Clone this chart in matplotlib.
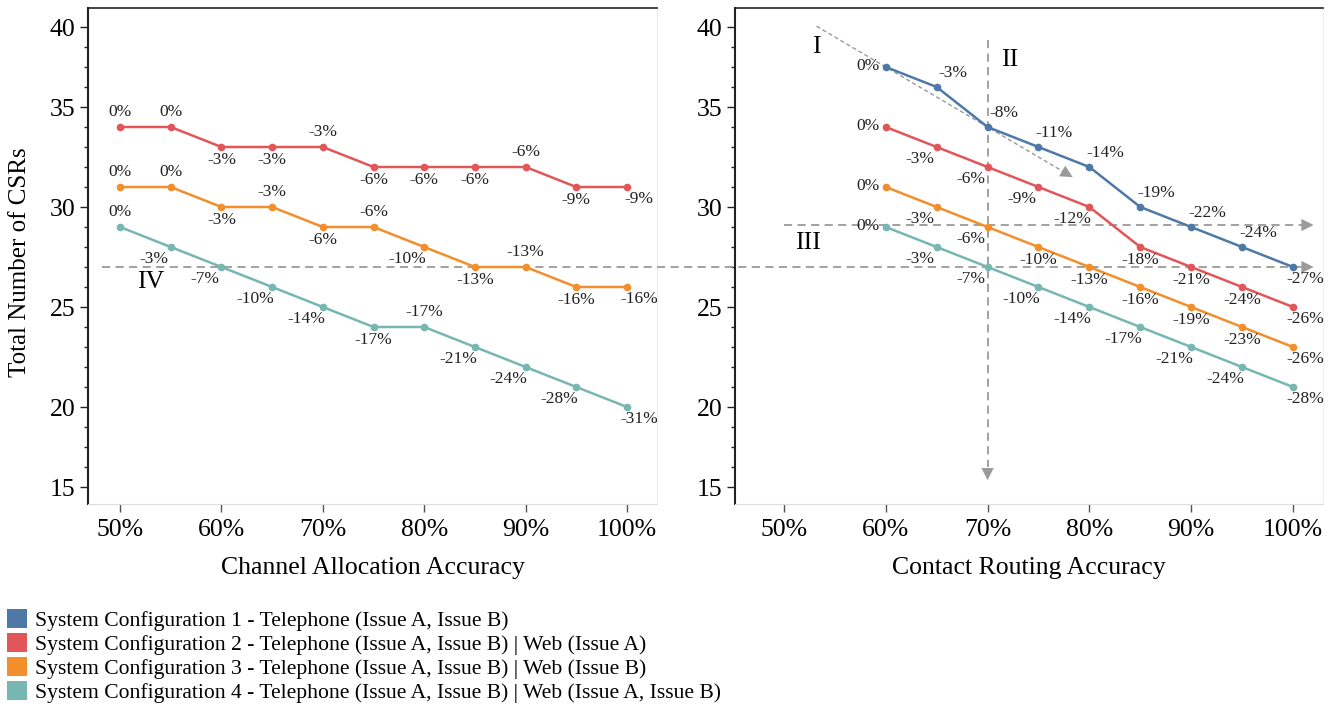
import matplotlib.pyplot as plt
from matplotlib.patches import Patch

plt.rcParams['font.family'] = ['Liberation Serif', 'DejaVu Serif']

# accuracy steps (%)
channel_acc = [50, 55, 60, 65, 70, 75, 80, 85, 90, 95, 100]
routing_acc = [60, 65, 70, 75, 80, 85, 90, 95, 100]

# left panel - Channel Allocation Accuracy
chan_cfg2 = [34, 34, 33, 33, 33, 32, 32, 32, 32, 31, 31]
chan_cfg3 = [31, 31, 30, 30, 29, 29, 28, 27, 27, 26, 26]
chan_cfg4 = [29, 28, 27, 26, 25, 24, 24, 23, 22, 21, 20]
chan_cfg2_pct = [0, 0, -3, -3, -3, -6, -6, -6, -6, -9, -9]
chan_cfg3_pct = [0, 0, -3, -3, -6, -6, -10, -13, -13, -16, -16]
chan_cfg4_pct = [0, -3, -7, -10, -14, -17, -17, -21, -24, -28, -31]

# right panel - Contact Routing Accuracy
rout_cfg1 = [37, 36, 34, 33, 32, 30, 29, 28, 27]
rout_cfg2 = [34, 33, 32, 31, 30, 28, 27, 26, 25]
rout_cfg3 = [31, 30, 29, 28, 27, 26, 25, 24, 23]
rout_cfg4 = [29, 28, 27, 26, 25, 24, 23, 22, 21]
rout_cfg1_pct = [0, -3, -8, -11, -14, -19, -22, -24, -27]
rout_cfg2_pct = [0, -3, -6, -9, -12, -18, -21, -24, -26]
rout_cfg3_pct = [0, -3, -6, -10, -13, -16, -19, -23, -26]
rout_cfg4_pct = [0, -3, -7, -10, -14, -17, -21, -24, -28]

legend_labels = [
    'System Configuration 1 - Telephone (Issue A, Issue B)',
    'System Configuration 2 - Telephone (Issue A, Issue B) | Web (Issue A)',
    'System Configuration 3 - Telephone (Issue A, Issue B) | Web (Issue B)',
    'System Configuration 4 - Telephone (Issue A, Issue B) | Web (Issue A, Issue B)',
]
colors = ['#4e79a7', '#e15759', '#f28e2b', '#76b7b2']

# label placement codes -> pixel offsets (dx, dy up)
OFFS = {'a': (0, 15), 'b': (0, -13), 'bl': (-17, -12), 'br': (12, -12),
        'l': (-18, 1), 'ar': (16, 14)}

chan_pos2 = ['a', 'a', 'b', 'b', 'a', 'b', 'b', 'b', 'a', 'b', 'br']
chan_pos3 = ['a', 'a', 'b', 'a', 'b', 'a', 'bl', 'b', 'a', 'b', 'br']
chan_pos4 = ['a', 'bl', 'bl', 'bl', 'bl', 'b', 'a', 'bl', 'bl', 'bl', 'br']
rout_pos1 = ['l', 'ar', 'ar', 'ar', 'ar', 'ar', 'ar', 'ar', 'br']
rout_pos2 = ['l', 'bl', 'bl', 'bl', 'bl', 'b', 'b', 'b', 'br']
rout_pos3 = ['l', 'bl', 'bl', 'b', 'b', 'b', 'b', 'b', 'br']
rout_pos4 = ['l', 'bl', 'bl', 'bl', 'bl', 'bl', 'bl', 'bl', 'br']

DASH = '#9a9a9a'

fig = plt.figure(figsize=(13.38, 7.15), dpi=100)
ax1 = fig.add_axes([88 / 1338, 1 - 504 / 715, 569 / 1338, 496 / 715])
ax2 = fig.add_axes([735 / 1338, 1 - 504 / 715, 588 / 1338, 496 / 715])


def draw_series(ax, x, y, pct, pos, color):
    ax.plot(x, y, color=color, lw=1.8, marker='o', ms=4.5, zorder=3)
    for xi, yi, p, code in zip(x, y, pct, pos):
        dx, dy = OFFS[code]
        ax.annotate(f'{p}%', (xi, yi), xytext=(dx, dy), textcoords='offset pixels',
                    ha='center', va='center', fontsize=12.5, color='#222222', zorder=4)


def style_axes(ax, xlim):
    ax.set_xlim(*xlim)
    ax.set_ylim(15.15, 39.95)
    ax.set_xticks([50, 60, 70, 80, 90, 100])
    ax.set_xticklabels(['50%', '60%', '70%', '80%', '90%', '100%'], fontsize=18.5)
    ax.set_yticks([16, 20, 25, 30, 35, 39])
    ax.set_yticklabels(['15', '20', '25', '30', '35', '40'], fontsize=18.5)
    ax.set_yticks([v for v in range(17, 39) if v not in (20, 25, 30, 35)], minor=True)
    ax.tick_params(axis='x', length=6, width=1, color='#555555', pad=5)
    ax.tick_params(axis='y', which='major', length=6, width=1, color='#222222', pad=3)
    ax.tick_params(axis='y', which='minor', length=3, width=1, color='#222222')
    ax.spines['left'].set_color('#222222')
    ax.spines['left'].set_linewidth(1.5)
    ax.spines['top'].set_color('#222222')
    ax.spines['top'].set_linewidth(1.2)
    ax.spines['bottom'].set_color('#dddddd')
    ax.spines['right'].set_color('#eeeeee')


style_axes(ax1, (46.84, 102.96))
style_axes(ax2, (45.19, 102.95))

draw_series(ax1, channel_acc, chan_cfg2, chan_cfg2_pct, chan_pos2, colors[1])
draw_series(ax1, channel_acc, chan_cfg3, chan_cfg3_pct, chan_pos3, colors[2])
draw_series(ax1, channel_acc, chan_cfg4, chan_cfg4_pct, chan_pos4, colors[3])

draw_series(ax2, routing_acc, rout_cfg1, rout_cfg1_pct, rout_pos1, colors[0])
draw_series(ax2, routing_acc, rout_cfg2, rout_cfg2_pct, rout_pos2, colors[1])
draw_series(ax2, routing_acc, rout_cfg3, rout_cfg3_pct, rout_pos3, colors[2])
draw_series(ax2, routing_acc, rout_cfg4, rout_cfg4_pct, rout_pos4, colors[3])

ax1.set_xlabel('Channel Allocation Accuracy', fontsize=18.5, labelpad=11)
ax2.set_xlabel('Contact Routing Accuracy', fontsize=18.5, labelpad=11)
ax1.set_ylabel('Total Number of CSRs', fontsize=18)
ax1.yaxis.set_label_coords(-0.1, 0.488)

# guide lines
dash_kw = dict(color=DASH, lw=1.3, ls=(0, (4.5, 3)), zorder=2)
head_kw = dict(arrowstyle='-|>', color=DASH, lw=0, mutation_scale=22)

ax1.plot([48.2, 102.96], [27, 27], clip_on=False, **dash_kw)
ax2.plot([37.5, 100.9], [27, 27], clip_on=False, **dash_kw)
ax2.annotate('', xy=(102.3, 27), xytext=(100.7, 27), arrowprops=head_kw)

ax2.plot([50, 100.9], [29.1, 29.1], **dash_kw)
ax2.annotate('', xy=(102.3, 29.1), xytext=(100.7, 29.1), arrowprops=head_kw)

ax2.plot([70, 70], [38.35, 17.0], **dash_kw)
ax2.annotate('', xy=(70, 16.2), xytext=(70, 17.0), arrowprops=head_kw)

ax2.plot([53.2, 77.4], [39.04, 31.78], color=DASH, lw=1.0, ls=(0, (3, 2)), zorder=2)
ax2.annotate('', xy=(78.6, 31.42), xytext=(77.4, 31.78), arrowprops=head_kw)

ax1.text(53.0, 26.25, 'IV', fontsize=18.5, ha='center', va='center')
ax2.text(53.2, 38.0, 'I', fontsize=18.5, ha='center', va='center')
ax2.text(72.2, 37.35, 'II', fontsize=18.5, ha='center', va='center')
ax2.text(52.4, 28.2, 'III', fontsize=18.5, ha='center', va='center')

handles = [Patch(facecolor=c, edgecolor='none') for c in colors]
fig.legend(handles, legend_labels, loc='upper left', bbox_to_anchor=(0.005, 1 - 609 / 715),
           frameon=False, fontsize=15.6, handlelength=0.95, handleheight=0.95,
           handletextpad=0.35, labelspacing=0.1, borderpad=0, borderaxespad=0)

fig.savefig('out.png', dpi=100)
